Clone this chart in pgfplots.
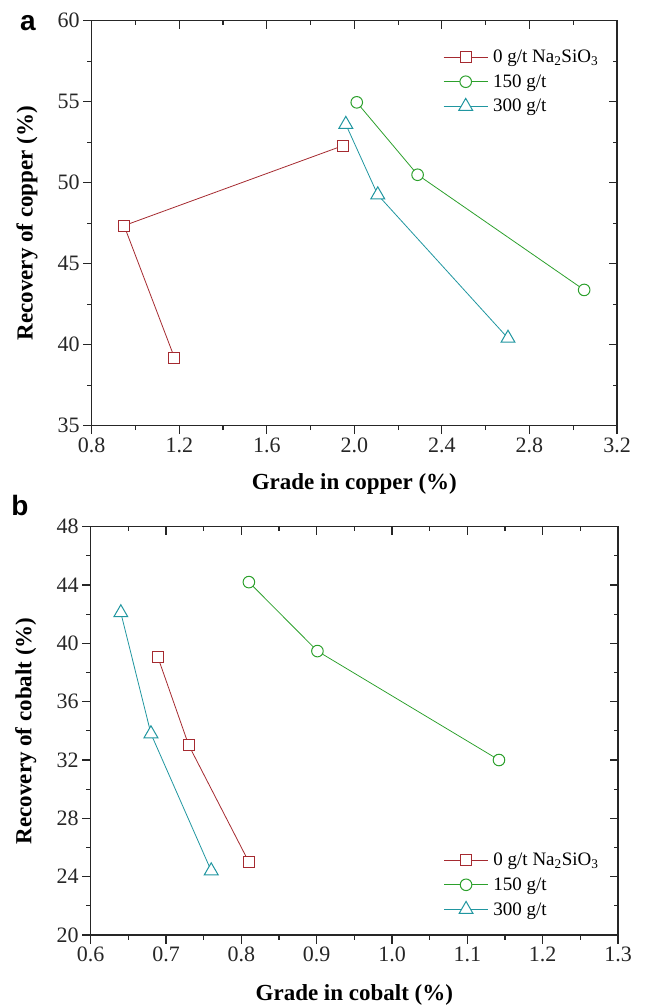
\documentclass[border=0pt]{standalone}
\usepackage{pgfplots}
\pgfplotsset{compat=1.18}
\usepackage{fontspec}
\setmainfont{Liberation Serif}
\newfontfamily\arial{Liberation Sans}
\definecolor{cred}{RGB}{165,42,48}
\definecolor{cgreen}{RGB}{44,160,44}
\definecolor{cteal}{RGB}{32,150,160}
\newcommand\tickfont{\fontsize{22}{26}\selectfont}
\newcommand\labfont{\fontsize{23}{27}\selectfont\bfseries}
\newcommand\legfont{\fontsize{19}{22}\selectfont}

\pgfplotsset{
  base/.style={
    scale only axis,
    anchor=south west,
    axis line style={line width=1.1pt, black!85},
    every tick/.style={line width=1.1pt, black!85},
    major tick length=8.5pt,
    minor tick length=4.5pt,
    tick align=outside,
    tick pos=left,
    minor x tick num=1,
    minor y tick num=1,
    ticklabel style={font=\tickfont, text=black!85},
    /pgf/number format/assume math mode=true,
    label style={font=\labfont},
    legend style={draw=none, fill=none, font=\legfont, row sep=6.5pt, column sep=3pt, inner sep=0pt},
    legend cell align=left,
    legend image code/.code={
      \draw[mark=none] (0pt,0pt) -- (44pt,0pt);
      \draw plot[only marks] coordinates {(22pt,0pt)};
    },
  },
  mirror/.style={
    scale only axis, anchor=south west,
    axis line style={line width=1.1pt, black!85},
    every tick/.style={line width=1.1pt, black!85},
    major tick length=8pt, minor tick length=4pt,
    tick align=inside, tick pos=right,
    minor x tick num=1, minor y tick num=1,
    xticklabels={}, yticklabels={},
  },
  sred/.style={color=cred, line width=0.8pt, mark=square*, mark size=5.5pt, mark options={solid, line width=1pt, fill=white}},
  sgreen/.style={color=cgreen, line width=0.8pt, mark=*, mark size=5.8pt, mark options={solid, line width=1pt, fill=white}},
  steal/.style={color=cteal, line width=0.8pt, mark=triangle*, mark size=8pt, mark options={solid, line width=1pt, fill=white}},
}

\begin{document}
\begin{tikzpicture}
\path[use as bounding box] (0,0) rectangle (650pt,1007pt);

% ---------------- panel a ----------------
\pgfplotsset{panelA/.style={
  at={(91.7pt,581.3pt)}, width=525.3pt, height=405pt,
  xmin=0.8, xmax=3.2, ymin=35, ymax=60,
  xtick={0.8,1.2,1.6,2.0,2.4,2.8,3.2}, ytick={35,40,45,50,55,60},
}}
\begin{axis}[base, panelA,
  xticklabel style={/pgf/number format/.cd, fixed, fixed zerofill, precision=1},
  xlabel={Grade in copper (\%)},
  ylabel={Recovery of copper (\%)},
  xlabel style={at={(axis description cs:0.5,-0.143)}, anchor=center},
  ylabel style={at={(axis description cs:-0.123,0.5)}, anchor=center},
  legend style={at={(0.669,0.933)}, anchor=north west},
]
\addplot[sred] coordinates {(1.947,52.28) (0.948,47.35) (1.178,39.2)};
\addlegendentry{0 g/t Na\textsubscript{2}SiO\textsubscript{3}}
\addplot[sgreen] coordinates {(2.011,54.96) (2.289,50.49) (3.05,43.38)};
\addlegendentry{150 g/t}
\addplot[steal] coordinates {(1.961,53.6) (2.107,49.25) (2.702,40.4)};
\addlegendentry{300 g/t}
\end{axis}
\begin{axis}[mirror, panelA]
\end{axis}
\node[font=\arial\bfseries\fontsize{28}{30}\selectfont] at (28pt,984pt) {a};

% ---------------- panel b ----------------
\pgfplotsset{panelB/.style={
  at={(90.7pt,72pt)}, width=527.3pt, height=408.3pt,
  xmin=0.6, xmax=1.3, ymin=20, ymax=48,
  xtick={0.6,0.7,0.8,0.9,1.0,1.1,1.2,1.3}, ytick={20,24,28,32,36,40,44,48},
}}
\begin{axis}[base, panelB,
  xticklabel style={/pgf/number format/.cd, fixed, fixed zerofill, precision=1},
  xlabel={Grade in cobalt (\%)},
  ylabel={Recovery of cobalt (\%)},
  xlabel style={at={(axis description cs:0.5,-0.147)}, anchor=center},
  ylabel style={at={(axis description cs:-0.123,0.5)}, anchor=center},
  legend style={at={(0.669,0.206)}, anchor=north west},
]
\addplot[sred] coordinates {(0.689,39.08) (0.730,33.03) (0.81,25.0)};
\addlegendentry{0 g/t Na\textsubscript{2}SiO\textsubscript{3}}
\addplot[sgreen] coordinates {(0.81,44.2) (0.901,39.47) (1.142,32.0)};
\addlegendentry{150 g/t}
\addplot[steal] coordinates {(0.640,42.1) (0.680,33.8) (0.760,24.4)};
\addlegendentry{300 g/t}
\end{axis}
\begin{axis}[mirror, panelB]
\end{axis}
\node[font=\arial\bfseries\fontsize{28}{30}\selectfont] at (20pt,502pt) {b};
\end{tikzpicture}
\end{document}
